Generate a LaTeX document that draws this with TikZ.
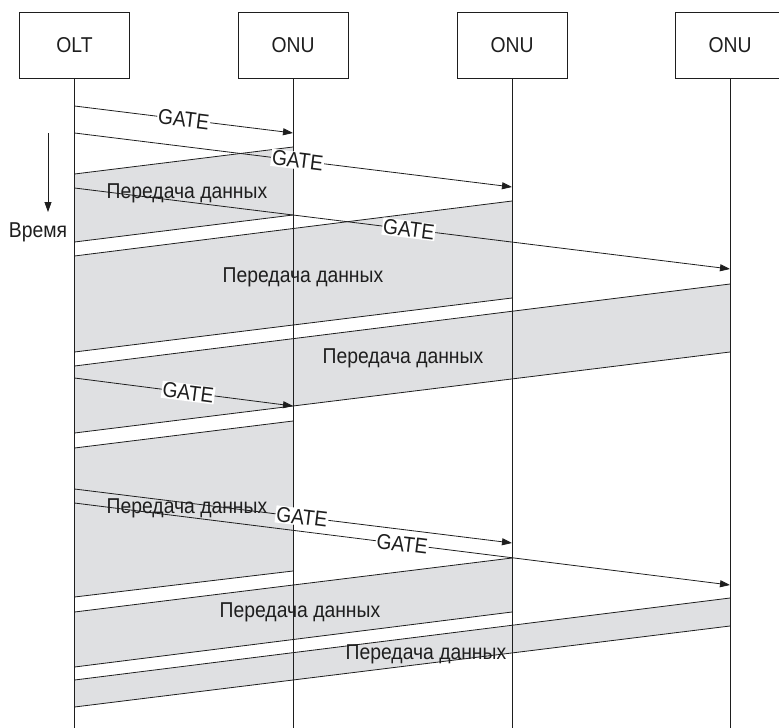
\documentclass[tikz,border=0pt]{standalone}
\usepackage{fontspec}
\setmainfont{Liberation Sans}[FakeStretch=0.9]
\usetikzlibrary{arrows.meta}
\definecolor{bandgray}{RGB}{223,224,226}
\definecolor{ink}{RGB}{30,30,30}
\begin{document}
\begin{tikzpicture}[x=1pt,y=-1pt,
  every node/.style={font=\fontsize{21.5}{24}\selectfont, text=ink},
  station/.style={draw=ink, line width=1pt, minimum width=110pt, minimum height=66pt, inner sep=0pt},
  lifeline/.style={draw=ink, line width=1pt},
  band/.style={fill=bandgray, draw=none},
  edge/.style={draw=ink, line width=0.8pt},
  gate/.style={draw=ink, line width=0.8pt, -{Triangle[length=10pt,width=7pt]}},
  gatelabel/.style={fill=white, inner sep=1pt, sloped, pos=#1},
  gatelabel/.default=0.5,
  datalabel/.style={anchor=base}
]
\useasboundingbox (0,0) rectangle (779,728);
\clip (0,0) rectangle (779,728);

% stations
\node[station] (olt) at (74.5,45) {OLT};
\node[station] (onuA) at (293,45) {ONU};
\node[station] (onuB) at (512,45) {ONU};
\node[station] (onuC) at (730,45) {ONU};

% lifeline ends
\coordinate (oltEnd) at (74.5,728);
\coordinate (onuAEnd) at (293,728);
\coordinate (onuBEnd) at (512,728);
\coordinate (onuCEnd) at (730,728);

% data bursts: corners on the lifelines (t = top, b = bottom)
\coordinate (A1t) at (293,147);  \coordinate (A0t) at (74.5,174);
\coordinate (A1b) at (293,215);  \coordinate (A0b) at (74.5,242);
\coordinate (B1t) at (512,201);  \coordinate (B0t) at (74.5,256);
\coordinate (B1b) at (512,298);  \coordinate (B0b) at (74.5,352);
\coordinate (C1t) at (730,284);  \coordinate (C0t) at (74.5,366);
\coordinate (C1b) at (730,352);  \coordinate (C0b) at (74.5,433);
\coordinate (D1t) at (293,421);  \coordinate (D0t) at (74.5,448);
\coordinate (D1b) at (293,571);  \coordinate (D0b) at (74.5,597);
\coordinate (E1t) at (512,558);  \coordinate (E0t) at (74.5,612);
\coordinate (E1b) at (512,612);  \coordinate (E0b) at (74.5,667);
\coordinate (F1t) at (730,598);  \coordinate (F0t) at (74.5,680);
\coordinate (F1b) at (730,626);  \coordinate (F0b) at (74.5,707);

\foreach \b in {A,B,C,D,E,F}{
  \fill[band] (\b1t) -- (\b0t) -- (\b0b) -- (\b1b) -- cycle;
}
\foreach \b in {A,B,C,D,E,F}{
  \draw[edge] (\b1t) -- (\b0t);
  \draw[edge] (\b1b) -- (\b0b);
}

% lifelines
\draw[lifeline] (olt.south) -- (oltEnd);
\draw[lifeline] (onuA.south) -- (onuAEnd);
\draw[lifeline] (onuB.south) -- (onuBEnd);
\draw[lifeline] (onuC.south) -- (onuCEnd);

% burst labels
\node[datalabel] (dA) at (187,198) {Передача данных};
\node[datalabel] (dB) at (303,282) {Передача данных};
\node[datalabel] (dC) at (403,363) {Передача данных};
\node[datalabel] (dD) at (187,513) {Передача данных};
\node[datalabel] (dE) at (300,617) {Передача данных};
\node[datalabel] (dF) at (426,659) {Передача данных};

% GATE messages
\coordinate (g1s) at (74.5,106); \coordinate (g1e) at (293,133);
\coordinate (g2s) at (74.5,133); \coordinate (g2e) at (512,187);
\coordinate (g3s) at (74.5,188); \coordinate (g3e) at (730,269);
\coordinate (g4s) at (74.5,378); \coordinate (g4e) at (293,406);
\coordinate (g5s) at (74.5,489); \coordinate (g5e) at (512,543);
\coordinate (g6s) at (74.5,503); \coordinate (g6e) at (730,585);

\draw[gate] (g1s) -- node[gatelabel=0.50] (l1) {GATE} (g1e);
\draw[gate] (g2s) -- node[gatelabel=0.51] (l2) {GATE} (g2e);
\draw[gate] (g3s) -- node[gatelabel=0.51] (l3) {GATE} (g3e);
\draw[gate] (g4s) -- node[gatelabel=0.52] (l4) {GATE} (g4e);
\draw[gate] (g5s) -- node[gatelabel=0.52] (l5) {GATE} (g5e);
\draw[gate] (g6s) -- node[gatelabel=0.50] (l6) {GATE} (g6e);

% time axis
\coordinate (t0) at (48,133);
\coordinate (t1) at (48,212);
\draw[gate] (t0) -- (t1);
\node[anchor=base] (time) at (38,237) {Время};
\end{tikzpicture}
\end{document}
